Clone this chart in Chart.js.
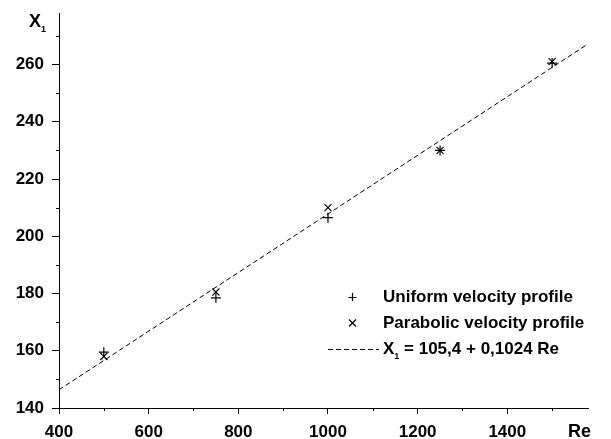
<!DOCTYPE html>
<html><head><meta charset="utf-8">
<script src="https://cdn.jsdelivr.net/npm/chart.js@4/dist/chart.umd.min.js"></script>
<style>html,body{margin:0;padding:0;background:#fff;}#wrap{width:611px;height:439px;}</style>
</head><body><div id="wrap"><canvas id="c" width="611" height="439"></canvas></div>
<script>
const reynolds = [500, 750, 1000, 1250, 1500];
const uniformX1 = [159.5, 178.5, 206.5, 230, 260.5];
const parabolicX1 = [158, 180.5, 210, 230, 261];
const fitRe = [400, 1580];
const fitIntercept = 105.4;
const fitSlope = 0.1024;
const legendLabels = ['Uniform velocity profile', 'Parabolic velocity profile', 'X', ' = 105,4 + 0,1024 Re'];
const xTicksMajor = [400, 600, 800, 1000, 1200, 1400];
const yTicksMajor = [140, 160, 180, 200, 220, 240, 260];

const FAM = '"Liberation Sans", Arial, sans-serif';
const fitPoints = fitRe.map(r => ({x: r, y: fitIntercept + fitSlope * r}));

const extras = {
  id: 'extras',
  afterDraw(chart) {
    const ctx = chart.ctx;
    const xs = chart.scales.x, ys = chart.scales.y;
    ctx.save();
    ctx.strokeStyle = '#000'; ctx.lineWidth = 1;
    // minor ticks
    ctx.beginPath();
    for (let v = 500; v <= 1500; v += 200) {
      const px = Math.round(xs.getPixelForValue(v)) + 0.5;
      ctx.moveTo(px, xs.top); ctx.lineTo(px, xs.top + 3);
    }
    for (let v = 150; v <= 270; v += 20) {
      const py = Math.round(ys.getPixelForValue(v)) + 0.5;
      ctx.moveTo(ys.right, py); ctx.lineTo(ys.right - 3, py);
    }
    ctx.stroke();
    // axis titles
    ctx.fillStyle = '#000';
    ctx.font = 'bold 18px ' + FAM; ctx.textBaseline = 'alphabetic'; ctx.textAlign = 'left';
    ctx.fillText('X', 29, 27);
    ctx.font = 'bold 9px ' + FAM;
    ctx.fillText('1', 41, 32);
    ctx.font = 'bold 18px ' + FAM;
    ctx.fillText('Re', 568, 437);
    // legend
    const lf = 'bold 17px ' + FAM;
    ctx.font = lf; ctx.textBaseline = 'middle';
    const tx = 383;
    const rows = [297, 323, 349];
    ctx.fillText(legendLabels[0], tx, rows[0]);
    ctx.fillText(legendLabels[1], tx, rows[1]);
    ctx.fillText(legendLabels[2], tx, rows[2]);
    const wX = ctx.measureText(legendLabels[2]).width;
    ctx.font = 'bold 9px ' + FAM;
    ctx.fillText('1', tx + wX, rows[2] + 8);
    ctx.font = lf;
    ctx.fillText(legendLabels[3], tx + wX + 5, rows[2]);
    // legend markers
    ctx.lineWidth = 1.2;
    const mx = 352.5;
    ctx.beginPath();
    ctx.moveTo(mx - 4, rows[0] + 0.5); ctx.lineTo(mx + 4, rows[0] + 0.5);
    ctx.moveTo(mx, rows[0] - 4); ctx.lineTo(mx, rows[0] + 4);
    ctx.moveTo(mx - 3.5, rows[1] - 3.5); ctx.lineTo(mx + 3.5, rows[1] + 3.5);
    ctx.moveTo(mx + 3.5, rows[1] - 3.5); ctx.lineTo(mx - 3.5, rows[1] + 3.5);
    ctx.stroke();
    ctx.lineWidth = 1;
    ctx.setLineDash([5, 3]);
    ctx.beginPath();
    ctx.moveTo(328, rows[2] + 0.5); ctx.lineTo(379, rows[2] + 0.5);
    ctx.stroke();
    ctx.restore();
  }
};

new Chart(document.getElementById('c'), {
  type: 'scatter',
  data: {
    datasets: [
      {label: 'Uniform velocity profile', data: reynolds.map((r, i) => ({x: r, y: uniformX1[i]})),
       pointStyle: 'cross', pointRadius: 5, borderColor: '#000', borderWidth: 1.2, backgroundColor: '#000'},
      {label: 'Parabolic velocity profile', data: reynolds.map((r, i) => ({x: r, y: parabolicX1[i]})),
       pointStyle: 'crossRot', pointRadius: 5, borderColor: '#000', borderWidth: 1.2, backgroundColor: '#000'},
      {label: 'fit', type: 'line', data: fitPoints, showLine: true, pointRadius: 0,
       borderColor: '#000', borderWidth: 1, borderDash: [5, 3], fill: false}
    ]
  },
  options: {
    responsive: false, animation: false, devicePixelRatio: 1,
    layout: {padding: {top: 13, right: 23, left: 0, bottom: 0}},
    plugins: {legend: {display: false}, tooltip: {enabled: false}},
    scales: {
      x: {type: 'linear', min: 400, max: 1580,
        afterBuildTicks: s => { s.ticks = xTicksMajor.map(v => ({value: v})); },
        afterFit: s => { s.height = 31; s.paddingLeft = 0; s.paddingRight = 0; },
        border: {color: '#000', width: 1},
        grid: {display: true, drawOnChartArea: false, drawTicks: true, tickLength: 6, color: '#000'},
        ticks: {color: '#000', font: {family: FAM, size: 17, weight: 'bold'}, padding: 8, maxRotation: 0,
          callback: v => String(v)}
      },
      y: {type: 'linear', min: 140, max: 278,
        afterBuildTicks: s => { s.ticks = yTicksMajor.map(v => ({value: v})); },
        afterFit: s => { s.width = 59; s.paddingTop = 0; s.paddingBottom = 0; },
        border: {color: '#000', width: 1},
        grid: {display: true, drawOnChartArea: false, drawTicks: true, tickLength: 7, color: '#000'},
        ticks: {color: '#000', font: {family: FAM, size: 17, weight: 'bold'}, padding: 8,
          callback: v => String(v)}
      }
    }
  },
  plugins: [extras]
});
</script></body></html>
